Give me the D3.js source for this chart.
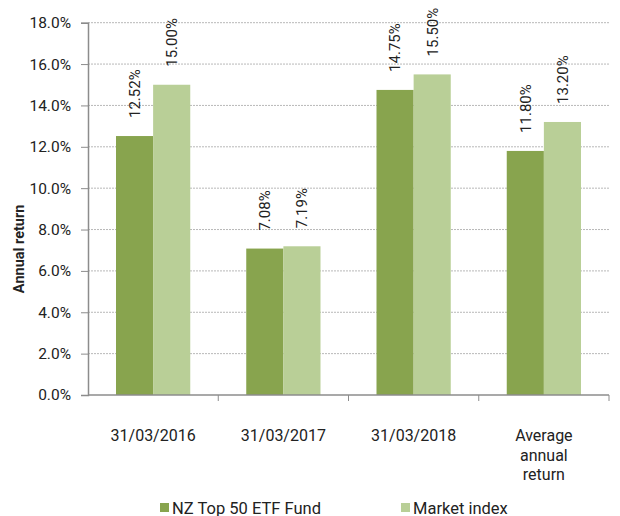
<!DOCTYPE html>
<html>
<head>
<meta charset="utf-8">
<script src="https://cdn.jsdelivr.net/npm/d3@7"></script>
<style>
  body { margin: 0; background: #fff; }
  text { font-family: Roboto, "Liberation Sans", sans-serif; fill: #222; }
</style>
</head>
<body>
<div id="chart"></div>
<script>
// data
const categories = ["31/03/2016", "31/03/2017", "31/03/2018", "Average annual return"];
const seriesNames = ["NZ Top 50 ETF Fund", "Market index"];
const fundValues = [12.52, 7.08, 14.75, 11.80];
const indexValues = [15.00, 7.19, 15.50, 13.20];
const yTicks = [0, 2, 4, 6, 8, 10, 12, 14, 16, 18];
const colors = ["#88a44e", "#b9cf97"];

const W = 620, H = 516;
const margin = { TOP: 22.7, LEFT: 88, RIGHT: 11, BOTTOM: 121 };
const w = W - margin.LEFT - margin.RIGHT;
const h = H - margin.TOP - margin.BOTTOM;

const rows = categories.map((c, i) => ({ cat: c, vals: [fundValues[i], indexValues[i]] }));

const svg = d3.select("#chart").append("svg")
  .attr("width", W).attr("height", H);

const g = svg.append("g")
  .attr("transform", `translate(${margin.LEFT},${margin.TOP})`);

const x0 = d3.scaleBand().domain(categories).range([0, w]).paddingInner(0).paddingOuter(0);
const x1 = d3.scaleBand().domain([0, 1]).range([28, x0.bandwidth() - 28]).padding(0);
const y = d3.scaleLinear().domain([0, 18]).range([h, 0]);

//gridlines
g.selectAll("line.grid")
  .data(yTicks.filter(t => t > 0))
  .enter().append("line")
  .attr("class", "grid")
  .attr("x1", 0).attr("x2", w)
  .attr("y1", d => y(d)).attr("y2", d => y(d))
  .attr("stroke", "#b8b8b8")
  .attr("stroke-width", 1)
  .attr("stroke-dasharray", "2,1");

//bars
const groups = g.selectAll("g.cat")
  .data(rows)
  .enter().append("g")
  .attr("class", "cat")
  .attr("transform", d => `translate(${x0(d.cat)},0)`);

groups.selectAll("rect")
  .data(d => d.vals)
  .enter().append("rect")
  .attr("x", (d, i) => x1(i))
  .attr("width", x1.bandwidth())
  .attr("y", d => y(d))
  .attr("height", d => h - y(d))
  .attr("fill", (d, i) => colors[i]);

//value labels
groups.selectAll("text.val")
  .data(d => d.vals)
  .enter().append("text")
  .attr("class", "val")
  .attr("transform", (d, i) => `translate(${x1(i) + x1.bandwidth() / 2},${y(d) - 18}) rotate(-90)`)
  .attr("dy", "0.36em")
  .attr("text-anchor", "start")
  .style("font-size", "15px")
  .text(d => d.toFixed(2) + "%");

//y axis
const yAxis = g.append("g")
  .call(d3.axisLeft(y).tickValues(yTicks).tickSize(7).tickPadding(10).tickFormat(d => d.toFixed(1) + "%"));
yAxis.select(".domain").attr("stroke", "#8c8c8c").attr("stroke-width", 1.5);
yAxis.selectAll(".tick line").attr("stroke", "#8c8c8c");
yAxis.selectAll("text").style("font-size", "15.5px").attr("fill", "#222");

//x axis
const xAxis = g.append("g")
  .attr("transform", `translate(0,${h})`);
xAxis.append("line")
  .attr("x1", 0).attr("x2", w)
  .attr("stroke", "#8c8c8c").attr("stroke-width", 1.5);
xAxis.selectAll("line.tick")
  .data(categories)
  .enter().append("line")
  .attr("class", "tick")
  .attr("x1", d => x0(d) + x0.bandwidth()).attr("x2", d => x0(d) + x0.bandwidth())
  .attr("y1", 0).attr("y2", 6)
  .attr("stroke", "#8c8c8c");

const xLabels = xAxis.selectAll("text.xl")
  .data(categories)
  .enter().append("text")
  .attr("class", "xl")
  .attr("text-anchor", "middle")
  .attr("x", d => x0(d) + x0.bandwidth() / 2)
  .attr("y", 46)
  .style("font-size", "16px");

xLabels.each(function(d) {
  const lines = d.startsWith("Average") ? ["Average", "annual", "return"] : [d];
  const t = d3.select(this);
  lines.forEach((l, i) => {
    t.append("tspan")
      .attr("x", x0(d) + x0.bandwidth() / 2)
      .attr("dy", i === 0 ? 0 : 19.5)
      .text(l);
  });
});

//y label
svg.append("text")
  .attr("transform", `translate(24,${margin.TOP + h / 2 + 40}) rotate(-90)`)
  .attr("text-anchor", "middle")
  .style("font-size", "14.5px")
  .style("font-weight", "bold")
  .text("Annual return");

//legend
const legendX = [160, 401];
const legend = svg.selectAll("g.legend")
  .data(seriesNames)
  .enter().append("g")
  .attr("class", "legend")
  .attr("transform", (d, i) => `translate(${legendX[i]},503)`);

legend.append("rect")
  .attr("width", 9).attr("height", 9)
  .attr("fill", (d, i) => colors[i]);

legend.append("text")
  .attr("x", 12)
  .attr("y", 10.5)
  .style("font-size", "16.5px")
  .text(d => d);
</script>
</body>
</html>
